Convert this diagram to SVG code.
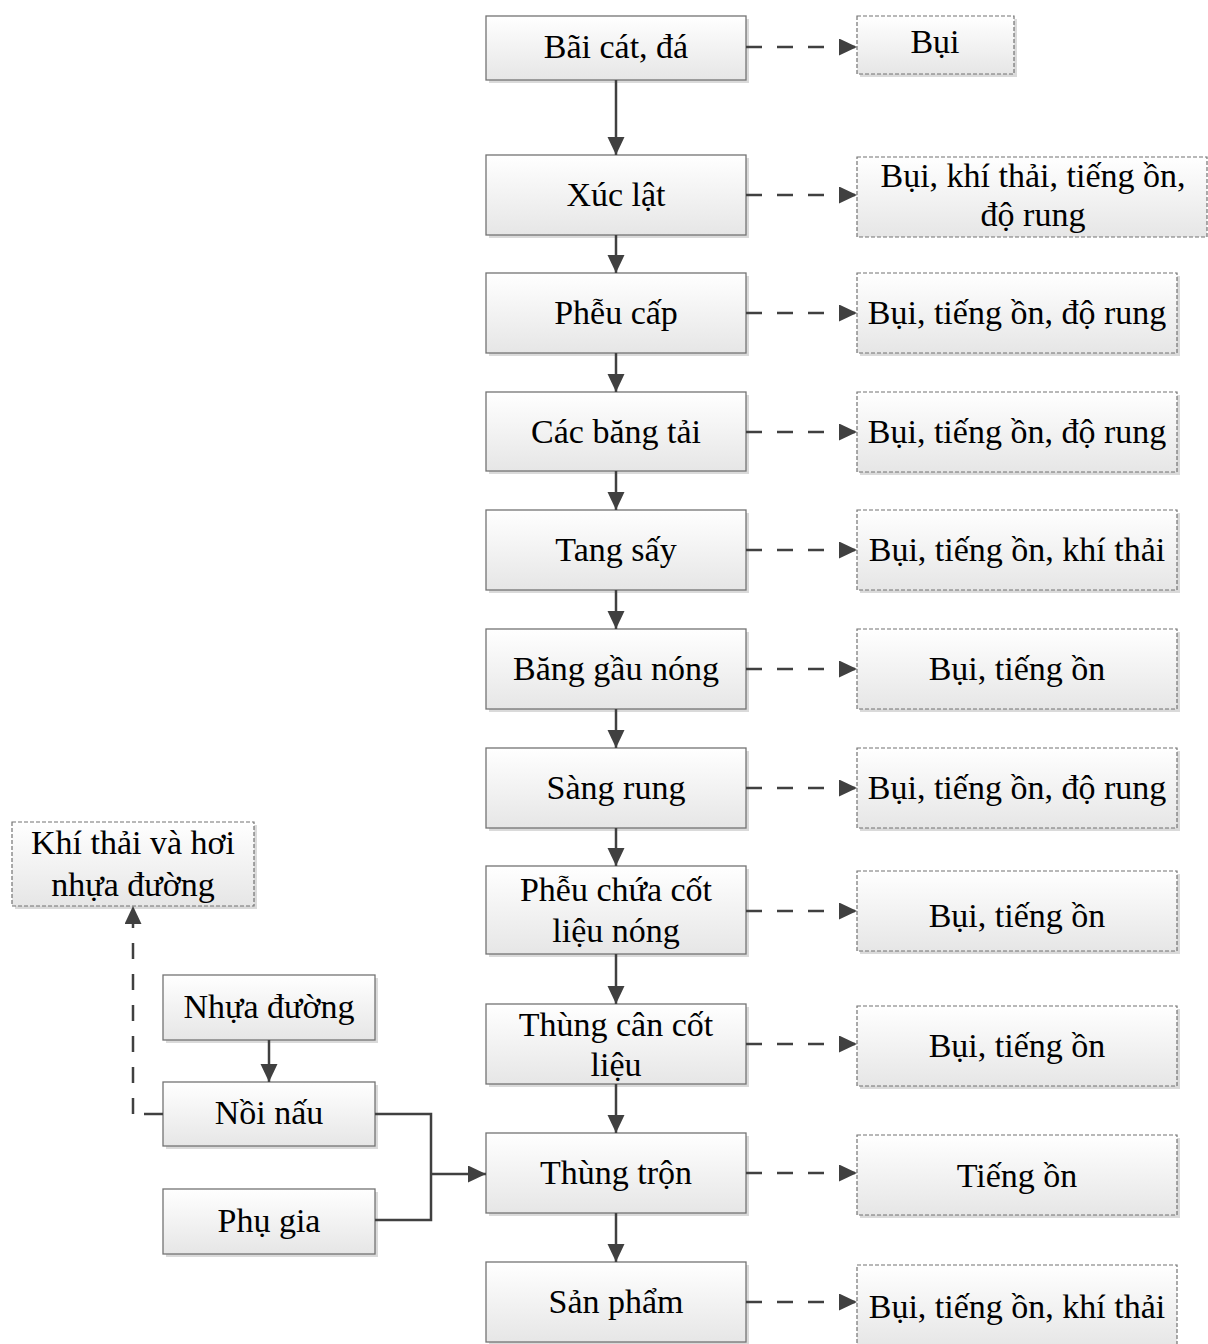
<svg xmlns="http://www.w3.org/2000/svg" width="1208" height="1344" viewBox="0 0 1208 1344">
<defs>
<linearGradient id="g" x1="0" y1="0" x2="0" y2="1">
<stop offset="0" stop-color="#ffffff"/>
<stop offset="1" stop-color="#e6e6e6"/>
</linearGradient>
<marker id="ah" markerUnits="userSpaceOnUse" markerWidth="19" markerHeight="18" refX="18" refY="8.5" orient="auto">
<path d="M0,0 L18,8.5 L0,17 Z" fill="#404040"/>
</marker>
<style>
.b{fill:url(#g);stroke:#737373;stroke-width:1.3}
.d{fill:url(#g);stroke:#737373;stroke-width:1.2;stroke-dasharray:4 2}
.s{fill:#dadada}
text{font-family:"Liberation Serif","Times New Roman",serif;font-size:34px;fill:#000;text-anchor:middle}
.c{fill:none;stroke:#404040;stroke-width:2.5}
.cd{fill:none;stroke:#404040;stroke-width:2.5;stroke-dasharray:16 15}
</style>
</defs>
<g id="n1"><rect class="s" x="489" y="19" width="260" height="64"/><rect class="b" x="486" y="16" width="260" height="64"/><text x="616" y="58">Bãi cát, đá</text></g>
<g id="n2"><rect class="s" x="489" y="158" width="260" height="80"/><rect class="b" x="486" y="155" width="260" height="80"/><text x="616" y="206">Xúc lật</text></g>
<g id="n3"><rect class="s" x="489" y="276" width="260" height="80"/><rect class="b" x="486" y="273" width="260" height="80"/><text x="616" y="324">Phễu cấp</text></g>
<g id="n4"><rect class="s" x="489" y="395" width="260" height="79"/><rect class="b" x="486" y="392" width="260" height="79"/><text x="616" y="443">Các băng tải</text></g>
<g id="n5"><rect class="s" x="489" y="513" width="260" height="80"/><rect class="b" x="486" y="510" width="260" height="80"/><text x="616" y="561">Tang sấy</text></g>
<g id="n6"><rect class="s" x="489" y="632" width="260" height="80"/><rect class="b" x="486" y="629" width="260" height="80"/><text x="616" y="680">Băng gầu nóng</text></g>
<g id="n7"><rect class="s" x="489" y="751" width="260" height="80"/><rect class="b" x="486" y="748" width="260" height="80"/><text x="616" y="799">Sàng rung</text></g>
<g id="n8"><rect class="s" x="489" y="869" width="260" height="88"/><rect class="b" x="486" y="866" width="260" height="88"/><text x="616" y="901">Phễu chứa cốt</text><text x="616" y="942">liệu nóng</text></g>
<g id="n9"><rect class="s" x="489" y="1007" width="260" height="80"/><rect class="b" x="486" y="1004" width="260" height="80"/><text x="616" y="1036">Thùng cân cốt</text><text x="616" y="1076">liệu</text></g>
<g id="n10"><rect class="s" x="489" y="1136" width="260" height="80"/><rect class="b" x="486" y="1133" width="260" height="80"/><text x="616" y="1184">Thùng trộn</text></g>
<g id="n11"><rect class="s" x="489" y="1265" width="260" height="80"/><rect class="b" x="486" y="1262" width="260" height="80"/><text x="616" y="1313">Sản phẩm</text></g>
<g id="e1"><rect class="s" x="860" y="19" width="157" height="58"/><rect class="d" x="857" y="16" width="157" height="58"/><text x="935" y="53">Bụi</text></g>
<g id="e2"><rect class="d" x="857" y="157" width="350" height="80"/><text x="1033" y="187">Bụi, khí thải, tiếng ồn,</text><text x="1033" y="226">độ rung</text></g>
<g id="e3"><rect class="s" x="860" y="276" width="320" height="80"/><rect class="d" x="857" y="273" width="320" height="80"/><text x="1017" y="324">Bụi, tiếng ồn, độ rung</text></g>
<g id="e4"><rect class="s" x="860" y="395" width="320" height="80"/><rect class="d" x="857" y="392" width="320" height="80"/><text x="1017" y="443">Bụi, tiếng ồn, độ rung</text></g>
<g id="e5"><rect class="s" x="860" y="513" width="320" height="80"/><rect class="d" x="857" y="510" width="320" height="80"/><text x="1017" y="561">Bụi, tiếng ồn, khí thải</text></g>
<g id="e6"><rect class="s" x="860" y="632" width="320" height="80"/><rect class="d" x="857" y="629" width="320" height="80"/><text x="1017" y="680">Bụi, tiếng ồn</text></g>
<g id="e7"><rect class="s" x="860" y="751" width="320" height="80"/><rect class="d" x="857" y="748" width="320" height="80"/><text x="1017" y="799">Bụi, tiếng ồn, độ rung</text></g>
<g id="e8"><rect class="s" x="860" y="874" width="320" height="80"/><rect class="d" x="857" y="871" width="320" height="80"/><text x="1017" y="927">Bụi, tiếng ồn</text></g>
<g id="e9"><rect class="s" x="860" y="1009" width="320" height="80"/><rect class="d" x="857" y="1006" width="320" height="80"/><text x="1017" y="1057">Bụi, tiếng ồn</text></g>
<g id="e10"><rect class="s" x="860" y="1138" width="320" height="80"/><rect class="d" x="857" y="1135" width="320" height="80"/><text x="1017" y="1187">Tiếng ồn</text></g>
<g id="e11"><rect class="d" x="857" y="1265" width="320" height="82"/><text x="1017" y="1318">Bụi, tiếng ồn, khí thải</text></g>
<g id="k"><rect class="s" x="15" y="825" width="242" height="84"/><rect class="d" x="12" y="822" width="242" height="84"/><text x="133" y="854">Khí thải và hơi</text><text x="133" y="896">nhựa đường</text></g>
<g id="nhua"><rect class="s" x="166" y="978" width="212" height="65"/><rect class="b" x="163" y="975" width="212" height="65"/><text x="269" y="1018">Nhựa đường</text></g>
<g id="noi"><rect class="s" x="166" y="1085" width="212" height="64"/><rect class="b" x="163" y="1082" width="212" height="64"/><text x="269" y="1124">Nồi nấu</text></g>
<g id="phu"><rect class="s" x="166" y="1192" width="212" height="65"/><rect class="b" x="163" y="1189" width="212" height="65"/><text x="269" y="1232">Phụ gia</text></g>
<g id="connectors">
<line class="c" x1="616" y1="80" x2="616" y2="155" marker-end="url(#ah)"/>
<line class="c" x1="616" y1="235" x2="616" y2="273" marker-end="url(#ah)"/>
<line class="c" x1="616" y1="353" x2="616" y2="392" marker-end="url(#ah)"/>
<line class="c" x1="616" y1="471" x2="616" y2="510" marker-end="url(#ah)"/>
<line class="c" x1="616" y1="590" x2="616" y2="629" marker-end="url(#ah)"/>
<line class="c" x1="616" y1="709" x2="616" y2="748" marker-end="url(#ah)"/>
<line class="c" x1="616" y1="828" x2="616" y2="866" marker-end="url(#ah)"/>
<line class="c" x1="616" y1="954" x2="616" y2="1004" marker-end="url(#ah)"/>
<line class="c" x1="616" y1="1084" x2="616" y2="1133" marker-end="url(#ah)"/>
<line class="c" x1="616" y1="1213" x2="616" y2="1262" marker-end="url(#ah)"/>
<line class="c" x1="269" y1="1040" x2="269" y2="1082" marker-end="url(#ah)"/>
<polyline class="c" points="375,1114 431,1114 431,1220 375,1220"/>
<line class="c" x1="431" y1="1174" x2="486" y2="1174" marker-end="url(#ah)"/>
<line class="c" x1="163" y1="1114" x2="144" y2="1114"/>
<line class="cd" x1="133" y1="1114" x2="133" y2="906" marker-end="url(#ah)"/>
<line class="cd" x1="746" y1="47" x2="857" y2="47" marker-end="url(#ah)"/>
<line class="cd" x1="746" y1="195" x2="857" y2="195" marker-end="url(#ah)"/>
<line class="cd" x1="746" y1="313" x2="857" y2="313" marker-end="url(#ah)"/>
<line class="cd" x1="746" y1="432" x2="857" y2="432" marker-end="url(#ah)"/>
<line class="cd" x1="746" y1="550" x2="857" y2="550" marker-end="url(#ah)"/>
<line class="cd" x1="746" y1="669" x2="857" y2="669" marker-end="url(#ah)"/>
<line class="cd" x1="746" y1="788" x2="857" y2="788" marker-end="url(#ah)"/>
<line class="cd" x1="746" y1="911" x2="857" y2="911" marker-end="url(#ah)"/>
<line class="cd" x1="746" y1="1044" x2="857" y2="1044" marker-end="url(#ah)"/>
<line class="cd" x1="746" y1="1173" x2="857" y2="1173" marker-end="url(#ah)"/>
<line class="cd" x1="746" y1="1302" x2="857" y2="1302" marker-end="url(#ah)"/>
</g>
</svg>
